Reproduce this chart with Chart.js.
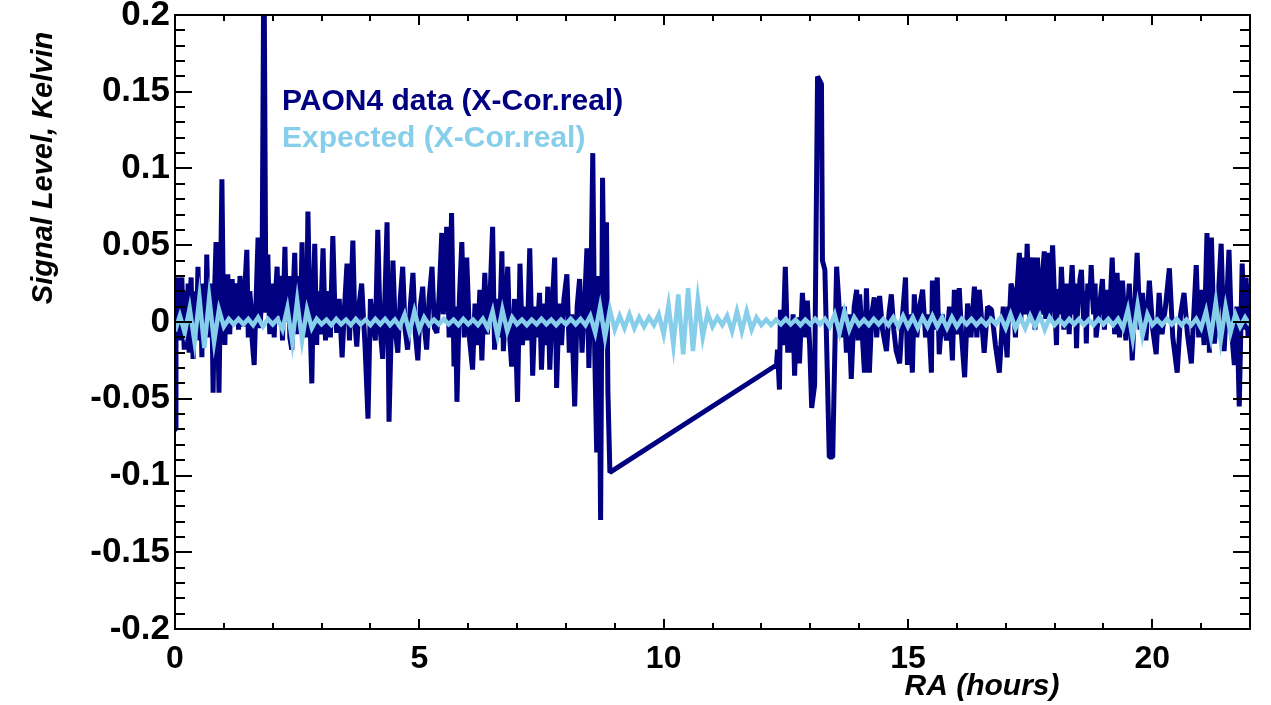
<!DOCTYPE html>
<html>
<head>
<meta charset="utf-8">
<script src="https://cdn.jsdelivr.net/npm/chart.js@4.4.1/dist/chart.umd.min.js"></script>
<style>
  html, body { margin: 0; padding: 0; background: #fff; }
  #wrap { width: 1271px; height: 705px; }
</style>
</head>
<body>
<div id="wrap"><canvas id="canvas1" width="1271" height="705"></canvas></div>
<script>
// PAON4 measured cross-correlation (real part), RA in hours / value in Kelvin
var paonRA = [
  0.00,0.02,0.04,0.06,0.09,0.11,0.14,0.16,0.19,0.22,
  0.25,0.27,0.29,0.31,0.33,0.35,0.37,0.40,0.42,0.45,
  0.47,0.49,0.51,0.53,0.55,0.58,0.60,0.63,0.65,0.67,
  0.69,0.72,0.75,0.78,0.81,0.84,0.87,0.90,0.93,0.96,
  0.99,1.02,1.05,1.08,1.10,1.12,1.15,1.17,1.20,1.22,
  1.25,1.27,1.30,1.33,1.36,1.39,1.43,1.47,1.50,1.53,
  1.56,1.58,1.62,1.66,1.70,1.74,1.78,1.82,1.86,1.90,
  1.92,1.94,1.96,1.98,2.01,2.03,2.06,2.09,2.12,2.15,
  2.18,2.20,2.23,2.25,2.28,2.31,2.33,2.35,2.39,2.42,
  2.45,2.49,2.52,2.54,2.56,2.58,2.60,2.63,2.66,2.69,
  2.72,2.76,2.80,2.83,2.86,2.90,2.92,2.94,2.98,3.00,
  3.03,3.08,3.10,3.13,3.18,3.20,3.23,3.27,3.31,3.36,
  3.42,3.47,3.52,3.57,3.64,3.68,3.72,3.77,3.82,3.89,
  3.95,4.00,4.05,4.10,4.15,4.20,4.25,4.30,4.34,4.38,
  4.46,4.51,4.56,4.61,4.66,4.71,4.76,4.82,4.87,4.92,
  4.97,5.02,5.07,5.11,5.15,5.20,5.26,5.31,5.36,5.41,
  5.46,5.49,5.52,5.56,5.61,5.66,5.71,5.74,5.77,5.82,
  5.87,5.92,5.97,6.03,6.09,6.14,6.19,6.24,6.28,6.34,
  6.39,6.44,6.50,6.54,6.59,6.64,6.69,6.72,6.77,6.81,
  6.85,6.89,6.95,7.01,7.06,7.11,7.16,7.21,7.26,7.32,
  7.37,7.41,7.46,7.50,7.55,7.59,7.63,7.67,7.72,7.77,
  7.81,7.86,7.91,7.96,8.02,8.07,8.12,8.18,8.23,8.28,
  8.33,8.38,8.43,8.47,8.51,8.55,8.59,8.63,8.67,8.71,
  8.75,8.79,8.83,8.86,8.90,
  12.31,12.33,12.37,12.39,12.44,12.49,12.54,12.58,12.62,12.65,
  12.68,12.72,12.78,12.84,12.89,12.94,12.99,13.03,13.09,13.15,
  13.23,13.25,13.30,13.39,13.46,13.50,13.54,13.60,13.65,13.70,
  13.74,13.79,13.84,13.90,13.95,13.98,14.01,14.06,14.11,14.15,
  14.21,14.26,14.31,14.36,14.42,14.48,14.56,14.61,14.66,14.71,
  14.76,14.83,14.89,14.95,14.99,15.04,15.09,15.13,15.18,15.24,
  15.30,15.36,15.42,15.48,15.50,15.55,15.60,15.64,15.70,15.79,
  15.85,15.91,15.95,16.00,16.05,16.10,16.16,16.22,16.29,16.36,
  16.41,16.46,16.51,16.56,16.63,16.71,16.79,16.87,16.95,17.03,
  17.06,17.08,17.11,17.14,17.17,17.20,17.24,17.28,17.31,17.34,
  17.37,17.39,17.42,17.44,17.47,17.50,17.52,17.55,17.58,17.60,
  17.63,17.65,17.68,17.72,17.75,17.79,17.82,17.85,17.88,17.90,
  17.93,17.96,18.00,18.04,18.06,18.09,18.11,18.14,18.17,18.19,
  18.22,18.24,18.27,18.30,18.33,18.36,18.40,18.42,18.45,18.48,
  18.50,18.52,18.55,18.58,18.60,18.63,18.65,18.68,18.70,18.73,
  18.75,18.78,18.80,18.83,18.85,18.92,18.98,19.02,19.06,19.12,
  19.18,19.23,19.28,19.33,19.39,19.46,19.53,19.59,19.64,19.69,
  19.75,19.80,19.87,19.94,20.01,20.08,20.14,20.20,20.27,20.35,
  20.42,20.51,20.58,20.65,20.72,20.80,20.85,20.90,20.95,21.00,
  21.06,21.12,21.17,21.21,21.27,21.34,21.41,21.47,21.52,21.57,
  21.62,21.68,21.73,21.78,21.84,21.88,21.92,21.96,22.00
];
var paonK = [
  -0.070,0.020,0.029,0.010,-0.012,0.022,0.029,0.005,-0.018,0.020,
  0.012,0.025,-0.020,0.015,0.029,0.000,-0.024,0.010,0.020,0.005,
  0.036,0.010,-0.012,0.015,-0.023,0.025,0.018,0.000,0.044,0.015,
  -0.010,0.010,0.025,-0.046,0.020,0.052,0.010,-0.046,0.020,0.093,
  0.010,-0.015,0.025,0.031,0.005,-0.008,0.020,0.028,0.010,0.000,
  0.022,0.025,-0.005,0.030,0.012,-0.003,0.022,0.047,-0.010,0.020,
  0.008,-0.012,-0.028,0.015,0.055,-0.004,0.020,0.250,0.006,0.044,
  0.015,-0.008,0.020,0.015,0.025,-0.010,0.020,0.036,0.004,0.030,
  0.015,-0.012,0.025,0.049,0.000,0.020,0.030,-0.010,-0.018,0.020,
  0.045,-0.008,0.020,0.030,-0.006,0.020,0.052,-0.002,0.020,-0.010,
  0.072,0.005,-0.040,0.015,0.051,-0.015,0.020,0.010,-0.008,0.020,
  0.048,-0.012,0.015,0.020,-0.010,0.020,0.056,0.010,-0.007,0.015,
  -0.023,0.010,0.038,-0.012,0.053,0.000,-0.016,0.012,0.025,-0.016,
  -0.063,0.015,0.000,-0.012,0.060,-0.005,-0.024,0.020,0.065,-0.065,
  0.040,-0.006,-0.020,0.015,0.036,-0.005,-0.018,0.012,0.032,-0.008,
  -0.025,0.010,0.023,-0.005,-0.018,0.015,0.036,-0.004,-0.007,0.020,
  0.058,0.005,0.020,0.062,-0.010,0.071,-0.029,0.010,-0.052,0.015,
  0.052,-0.010,0.042,-0.012,-0.031,0.012,-0.015,0.021,-0.025,0.032,
  -0.008,0.010,0.062,-0.018,0.015,-0.010,0.046,-0.019,0.012,0.036,
  -0.010,-0.029,0.015,-0.052,0.038,-0.015,0.010,-0.012,0.048,-0.035,
  0.010,-0.010,0.019,-0.031,0.012,-0.015,0.023,-0.031,0.010,0.042,
  -0.043,0.012,-0.015,0.015,0.031,-0.020,0.005,-0.055,0.010,0.028,
  -0.020,0.010,0.048,-0.030,0.020,0.110,-0.020,-0.085,0.030,-0.129,
  0.094,-0.010,0.065,-0.046,-0.098,
  -0.028,-0.018,-0.044,0.008,-0.015,0.036,-0.020,0.000,-0.020,0.005,
  -0.035,0.003,-0.027,0.019,-0.010,0.014,-0.016,-0.056,-0.041,0.160,
  0.155,0.040,0.034,-0.088,-0.088,-0.025,0.036,0.006,-0.010,0.010,
  -0.020,0.005,-0.037,0.010,0.021,-0.012,0.018,-0.005,-0.033,0.022,
  -0.033,0.005,0.016,-0.010,0.017,-0.005,-0.019,0.005,0.018,-0.005,
  -0.019,-0.027,0.005,0.029,-0.028,0.005,-0.033,0.018,-0.010,0.010,
  0.021,-0.010,0.005,-0.033,0.027,-0.005,0.029,-0.021,0.005,-0.012,
  0.010,-0.025,0.021,-0.008,0.022,-0.010,-0.036,0.012,-0.010,0.023,
  -0.010,0.021,0.000,-0.020,0.010,0.008,-0.015,-0.033,0.010,-0.023,
  0.010,0.005,0.025,0.021,0.005,-0.010,0.025,0.045,0.000,0.042,
  0.020,0.005,0.030,0.051,0.015,0.000,0.030,0.042,0.015,-0.005,
  0.025,0.042,0.015,0.005,0.030,0.046,0.002,0.045,0.020,0.000,
  0.030,0.050,0.015,-0.015,0.020,0.020,0.005,0.036,0.015,-0.005,
  0.025,0.010,0.025,-0.008,0.020,0.037,0.005,0.025,-0.017,0.020,
  0.015,0.028,0.034,0.010,0.000,0.020,-0.014,0.025,0.015,0.020,
  0.037,0.015,0.005,0.025,-0.010,0.010,0.028,-0.005,0.021,0.000,
  0.042,-0.008,0.032,-0.010,0.027,-0.012,0.025,-0.025,0.010,0.045,
  -0.005,0.019,-0.012,0.027,-0.005,-0.021,0.019,-0.008,0.010,0.035,
  -0.010,-0.033,0.005,0.019,-0.008,-0.027,0.005,0.037,-0.010,0.021,
  -0.015,0.058,-0.020,0.055,-0.014,0.010,0.051,-0.019,0.010,0.047,
  -0.005,-0.028,0.010,-0.055,0.038,-0.005,0.029,-0.010,0.025
];

// Expected signal, sampled every 0.1 h from RA 0 to 22
var modelStartRA = 0;
var modelStepRA = 0.1;
var modelK = [
  -0.006,0.004,-0.007,0.009,-0.013,0.016,-0.017,0.016,-0.013,0.008,
  -0.003,0.002,-0.0015,0.002,-0.0015,0.002,-0.002,0.003,-0.003,0.002,
  -0.0015,0.002,-0.005,0.009,-0.013,0.014,-0.012,0.008,-0.004,0.002,
  -0.0015,0.0015,-0.002,0.002,-0.0015,0.0015,-0.002,0.002,-0.0015,0.0015,
  -0.002,0.002,-0.0015,0.002,-0.002,0.0015,-0.003,0.005,-0.007,0.007,
  -0.005,0.003,-0.002,0.0015,-0.0015,0.002,-0.0015,0.0015,-0.002,0.002,
  -0.0015,0.0015,-0.002,0.002,-0.004,0.007,-0.009,0.008,-0.006,0.003,
  -0.0015,0.0015,-0.002,0.0015,-0.0015,0.002,-0.0015,0.0015,-0.002,0.0015,
  -0.0015,0.002,-0.0015,0.002,-0.002,0.004,-0.007,0.010,-0.010,0.008,
  -0.005,0.004,-0.004,0.005,-0.004,0.003,-0.003,0.003,-0.002,0.005,
  -0.008,0.011,-0.015,0.018,-0.021,0.022,-0.019,0.015,-0.010,0.006,
  -0.003,0.003,-0.002,0.004,-0.006,0.007,-0.006,0.007,-0.005,0.003,
  -0.002,0.0015,-0.002,0.0015,-0.0015,0.002,-0.0015,0.0015,-0.002,0.0015,
  -0.0015,0.002,-0.0015,0.002,-0.003,0.005,-0.007,0.007,-0.005,0.003,
  -0.002,0.0015,-0.002,0.002,-0.0015,0.002,-0.002,0.003,-0.003,0.004,
  -0.003,0.003,-0.004,0.003,-0.003,0.004,-0.003,0.003,-0.004,0.003,
  -0.003,0.002,-0.0015,0.002,-0.002,0.0015,-0.002,0.002,-0.0015,0.003,
  -0.004,0.005,-0.004,0.003,-0.004,0.004,-0.003,0.004,-0.005,0.003,
  -0.002,0.0015,-0.002,0.002,-0.0015,0.002,-0.002,0.0015,-0.002,0.002,
  -0.0015,0.002,-0.002,0.002,-0.004,0.008,-0.011,0.011,-0.009,0.005,
  -0.002,0.0015,-0.002,0.002,-0.0015,0.002,-0.002,0.0015,-0.002,0.002,
  -0.004,0.007,-0.010,0.013,-0.012,0.010,-0.007,0.005,-0.003,0.003,
  -0.002
];

var xTickValues = [0, 5, 10, 15, 20];
var yTickValues = [-0.2, -0.15, -0.1, -0.05, 0, 0.05, 0.1, 0.15, 0.2];
var yTickLabels = ['-0.2', '-0.15', '-0.1', '-0.05', '0', '0.05', '0.1', '0.15', '0.2'];

var paonLabel = 'PAON4 data (X-Cor.real)';
var modelLabel = 'Expected (X-Cor.real)';
var navy = '#000080';
var sky = '#87ceeb';
var fontFamily = '"Liberation Sans", Arial, Helvetica, sans-serif';

var paonPoints = paonRA.map(function(ra, i) { return {x: ra, y: paonK[i]}; });
var modelPoints = modelK.map(function(v, i) { return {x: modelStartRA + i * modelStepRA, y: v}; });

// box, inside ticks on all four sides, legend text and axis titles
var frameAndText = {
  id: 'frameAndText',
  afterDraw: function(chart) {
    var ctx = chart.ctx, a = chart.chartArea;
    var xs = chart.scales.x, ys = chart.scales.y;
    ctx.save();
    ctx.strokeStyle = '#000';
    ctx.lineWidth = 2;
    ctx.beginPath();
    for (var h = 0; h <= 22; h++) {
      var px = Math.round(xs.getPixelForValue(h));
      var len = (h % 5 === 0) ? 10 : 6;
      ctx.moveTo(px, a.bottom); ctx.lineTo(px, a.bottom - len);
      ctx.moveTo(px, a.top); ctx.lineTo(px, a.top + len);
    }
    for (var k = -20; k <= 20; k++) {
      var py = Math.round(ys.getPixelForValue(k / 100));
      var ylen = (k % 5 === 0) ? 17 : 10;
      ctx.moveTo(a.left, py); ctx.lineTo(a.left + ylen, py);
      ctx.moveTo(a.right, py); ctx.lineTo(a.right - ylen, py);
    }
    ctx.stroke();
    ctx.strokeRect(a.left, a.top, a.right - a.left, a.bottom - a.top);

    ctx.font = 'bold 30px ' + fontFamily;
    ctx.textAlign = 'left';
    ctx.textBaseline = 'alphabetic';
    ctx.fillStyle = navy;
    ctx.fillText(paonLabel, 282, 110);
    ctx.fillStyle = sky;
    ctx.fillText(modelLabel, 282, 147);

    ctx.fillStyle = '#000';
    ctx.font = 'italic bold 30px ' + fontFamily;
    ctx.textAlign = 'center';
    ctx.fillText('RA (hours)', 982, 695);

    ctx.translate(52, 168);
    ctx.rotate(-Math.PI / 2);
    ctx.font = 'italic bold 29px ' + fontFamily;
    ctx.fillText('Signal Level, Kelvin', 0, 0);
    ctx.restore();
  }
};

window.onload = function() {
  var ctx1 = document.getElementById('canvas1').getContext('2d');
  window.myLine = new Chart(ctx1, {
    type: 'line',
    data: {
      datasets: [{
        label: paonLabel,
        data: paonPoints,
        borderColor: navy,
        borderWidth: 5,
        borderJoinStyle: 'bevel',
        pointRadius: 0,
        tension: 0,
        fill: false,
        order: 2
      }, {
        label: modelLabel,
        data: modelPoints,
        borderColor: sky,
        borderWidth: 4.5,
        pointRadius: 0,
        tension: 0,
        fill: false,
        order: 1
      }]
    },
    options: {
      responsive: false,
      animation: false,
      devicePixelRatio: 1,
      layout: { padding: { top: 15, right: 21, left: 0, bottom: 0 } },
      plugins: {
        legend: { display: false },
        tooltip: { enabled: false }
      },
      scales: {
        x: {
          type: 'linear',
          min: 0,
          max: 22,
          grid: { display: false, drawTicks: false },
          border: { display: false },
          afterFit: function(s) { s.height = 76; s.paddingLeft = 0; s.paddingRight = 0; },
          afterBuildTicks: function(s) { s.ticks = xTickValues.map(function(v) { return {value: v}; }); },
          ticks: {
            color: '#000',
            padding: 11,
            maxRotation: 0,
            font: { family: fontFamily, size: 32, weight: 'bold' },
            callback: function(v) { return String(v); }
          }
        },
        y: {
          type: 'linear',
          min: -0.2,
          max: 0.2,
          grid: { display: false, drawTicks: false },
          border: { display: false },
          afterFit: function(s) { s.width = 175; s.paddingTop = 0; s.paddingBottom = 0; },
          afterBuildTicks: function(s) { s.ticks = yTickValues.map(function(v) { return {value: v}; }); },
          ticks: {
            color: '#000',
            padding: 5,
            font: { family: fontFamily, size: 35, weight: 'bold', lineHeight: 1 },
            callback: function(v) { return yTickLabels[yTickValues.indexOf(v)]; }
          }
        }
      }
    },
    plugins: [frameAndText]
  });
};
</script>
</body>
</html>
